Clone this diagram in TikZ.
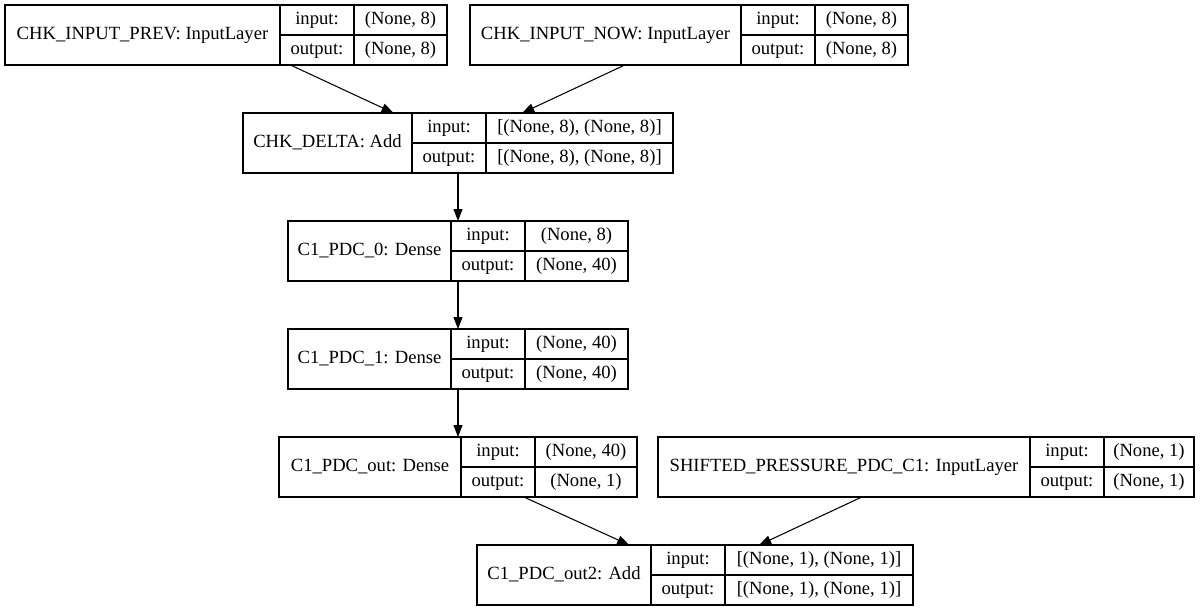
\documentclass[tikz,border=0pt]{standalone}
\usepackage{fontspec}
\setmainfont{Liberation Serif}
\usetikzlibrary{arrows.meta}

% one keras layer: name, left, top, title width, value width, title, input, output
\newcommand{\layerbox}[8]{%
  \node[layer,minimum width={(#4+74+#5)*0.02cm}] (#1) at (#2,#3) {};
  \node[cell,minimum width={#4*0.02cm},minimum height=1.2cm] (#1-name) at (#1.north west) {#6};
  \node[cell,minimum width=1.48cm] (#1-inl) at (#1-name.north east) {input:};
  \node[cell,minimum width=1.48cm] (#1-outl) at (#1-inl.south west) {output:};
  \node[cell,minimum width={#5*0.02cm}] (#1-inv) at (#1-inl.north east) {#7};
  \node[cell,minimum width={#5*0.02cm}] (#1-outv) at (#1-inv.south west) {#8};
}

\begin{document}
\begin{tikzpicture}[x=0.02cm,y=-0.02cm,->,>={Triangle[length=0.24cm,width=0.18cm]},line width=0.6pt]
\tikzstyle{layer}=[draw,rectangle,anchor=north west,inner sep=0pt,outer sep=0pt,minimum height=1.2cm]
\tikzstyle{cell}=[draw,rectangle,anchor=north west,inner sep=0pt,outer sep=0pt,minimum height=0.6cm,
  text height=0.72em,text depth=0.22em,font=\fontsize{10.6}{12.7}\selectfont]
\useasboundingbox (0,0) rectangle (1200,611);

\layerbox{prev}{5}{5}{275}{93}{CHK\_INPUT\_PREV: InputLayer}{(None, 8)}{(None, 8)}
\layerbox{now}{470}{5}{271}{93}{CHK\_INPUT\_NOW: InputLayer}{(None, 8)}{(None, 8)}
\layerbox{delta}{243}{113}{169}{187}{CHK\_DELTA: Add}{[(None, 8), (None, 8)]}{[(None, 8), (None, 8)]}
\layerbox{pdc0}{288}{221}{163}{103}{C1\_PDC\_0: Dense}{(None, 8)}{(None, 40)}
\layerbox{pdc1}{288}{329}{163}{103}{C1\_PDC\_1: Dense}{(None, 40)}{(None, 40)}
\layerbox{pdcout}{279}{437}{182}{102}{C1\_PDC\_out: Dense}{(None, 40)}{(None, 1)}
\layerbox{shifted}{658}{437}{372}{90}{SHIFTED\_PRESSURE\_PDC\_C1: InputLayer}{(None, 1)}{(None, 1)}
\layerbox{out2}{477}{545}{174}{188}{C1\_PDC\_out2: Add}{[(None, 1), (None, 1)]}{[(None, 1), (None, 1)]}

\draw (prev) -- (delta);
\draw (now) -- (delta);
\draw (delta) -- (pdc0);
\draw (pdc0) -- (pdc1);
\draw (pdc1) -- (pdcout);
\draw (pdcout) -- (out2);
\draw (shifted) -- (out2);
\end{tikzpicture}
\end{document}
